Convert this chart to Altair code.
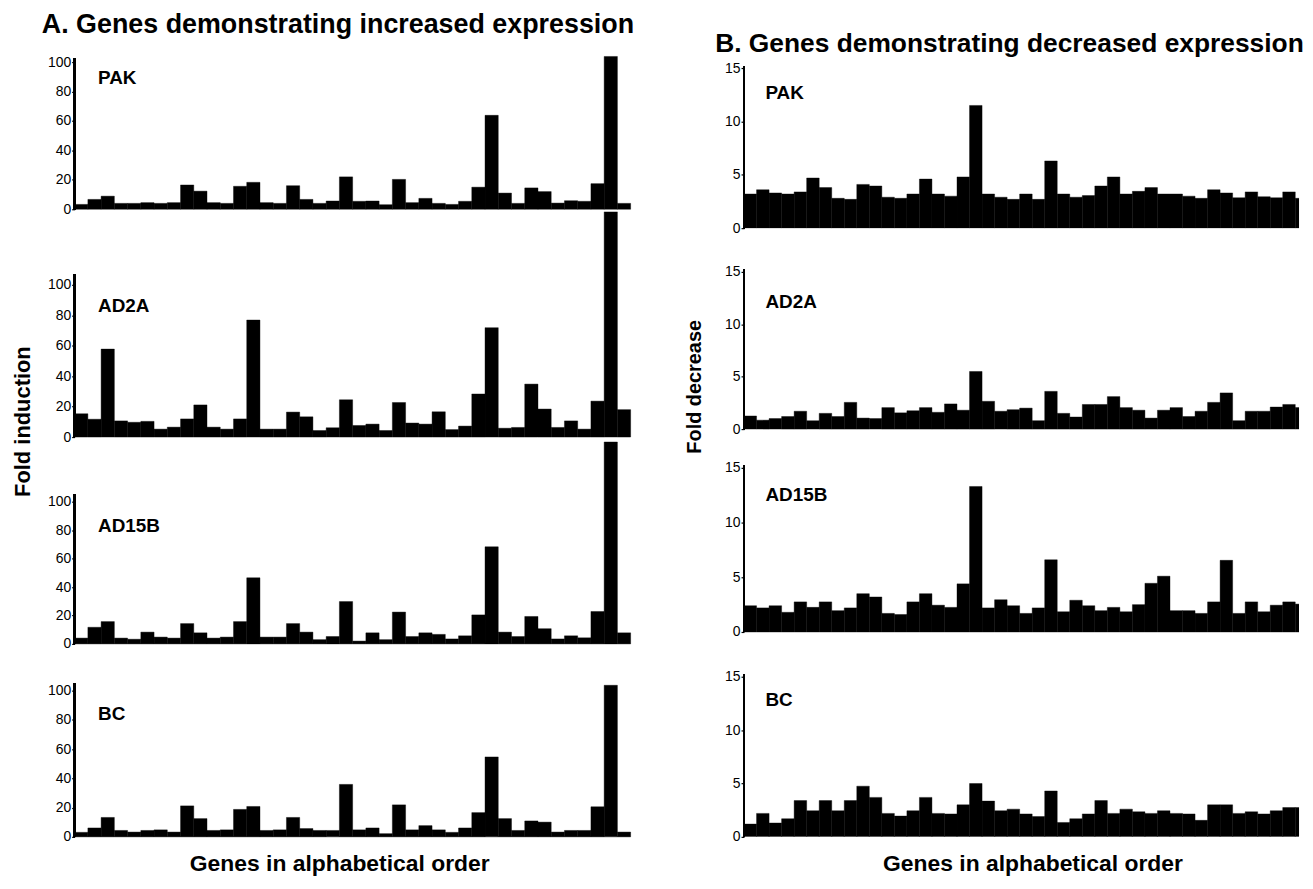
import altair as alt
import pandas as pd

FONT = "Liberation Sans"

# ---------------- data ----------------
panel_names = ["PAK", "AD2A", "AD15B", "BC"]

inc_pak = [3.3, 6.7, 8.9, 4, 4, 4.5, 4, 4.5, 16.5, 12.3,
           4.5, 4, 15.6, 18.3, 4.5, 4, 16, 6.7, 4, 5.6,
           22, 5.4, 5.6, 3.1, 20.3, 4.5, 7.4, 4, 3.3, 5.4,
           15, 63.8, 11, 4, 14.5, 12, 4.2, 5.8, 5.4, 17.4,
           103.8, 4]
inc_ad2a = [15.3, 11.7, 57.8, 10.6, 9.7, 10.3, 5.2, 6.5, 11.9, 21.1,
            6.5, 5.2, 11.9, 76.9, 5.2, 5.2, 16.4, 13.3, 4.3, 6.1,
            24.5, 7.6, 8.5, 4.3, 22.7, 9.2, 8.5, 16.6, 4.9, 7.2,
            28.3, 71.9, 5.8, 6.3, 34.8, 18.4, 6.3, 10.6, 5.2, 23.6,
            148, 18]
inc_ad15b = [4.1, 11.7, 15.7, 4.1, 3.3, 8.3, 4.8, 4.1, 14.3, 7.8,
             4.1, 4.8, 15.7, 46.5, 4.8, 4.8, 14.3, 8.3, 3.0, 5.2,
             29.8, 2.0, 7.8, 3.0, 22.4, 5.2, 7.8, 6.7, 3.5, 5.7,
             20.4, 68.3, 8.3, 5.2, 19.3, 10.7, 3.5, 5.7, 4.3, 22.8,
             142, 7.8]
inc_bc = [3.1, 6.1, 13.3, 4.4, 3.3, 4.4, 4.8, 3.3, 21.2, 12.5,
          4.4, 4.8, 18.8, 20.8, 4.4, 4.8, 13.3, 5.7, 4.4, 4.4,
          35.9, 4.8, 6.1, 2.2, 21.9, 4.8, 7.7, 4.8, 3.1, 6.1,
          16.6, 54.7, 12.5, 4.4, 10.9, 10.1, 3.3, 4.4, 4.4, 20.6,
          103.7, 3.3]

dec_pak = [3.2, 3.6, 3.3, 3.2, 3.4, 4.7, 3.8, 2.8, 2.7, 4.1,
           3.95, 2.9, 2.8, 3.2, 4.6, 3.2, 3.0, 4.8, 11.5, 3.2,
           2.9, 2.7, 3.2, 2.7, 6.3, 3.2, 2.9, 3.05, 3.95, 4.8,
           3.2, 3.45, 3.8, 3.2, 3.2, 3.0, 2.8, 3.6, 3.3, 2.85,
           3.4, 2.95, 2.85, 3.4, 2.8]
dec_ad2a = [1.25, 0.85, 1.0, 1.2, 1.7, 0.8, 1.5, 1.2, 2.55, 1.05,
            1.0, 2.05, 1.55, 1.75, 2.05, 1.6, 2.4, 1.8, 5.5, 2.65,
            1.7, 1.85, 2.0, 0.8, 3.6, 1.5, 1.15, 2.35, 2.35, 3.1,
            2.05, 1.8, 1.05, 1.8, 2.05, 1.2, 1.7, 2.55, 3.45, 0.8,
            1.7, 1.7, 2.1, 2.35, 2.05]
dec_ad15b = [2.4, 2.2, 2.4, 1.8, 2.75, 2.25, 2.75, 1.95, 2.2, 3.5,
             3.2, 1.7, 1.6, 2.75, 3.5, 2.45, 2.25, 4.4, 13.3, 2.2,
             2.95, 2.4, 1.7, 2.2, 6.6, 1.85, 2.9, 2.4, 1.95, 2.25,
             1.85, 2.5, 4.45, 5.1, 1.95, 1.95, 1.7, 2.75, 6.55, 1.7,
             2.75, 1.85, 2.45, 2.75, 2.55]
dec_bc = [1.2, 2.2, 1.3, 1.7, 3.4, 2.45, 3.4, 2.45, 3.4, 4.75,
          3.7, 2.2, 1.95, 2.45, 3.7, 2.2, 2.15, 3.0, 5.0, 3.35,
          2.45, 2.6, 2.15, 1.9, 4.3, 1.35, 1.7, 2.15, 3.4, 2.2,
          2.6, 2.35, 2.2, 2.45, 2.2, 2.15, 1.55, 3.0, 3.0, 2.2,
          2.35, 2.15, 2.45, 2.75, 2.75]

inc_ticks = [0, 20, 40, 60, 80, 100]
dec_ticks = [0, 5, 10, 15]

title_a = "A. Genes demonstrating increased expression"
title_b = "B. Genes demonstrating decreased expression"
y_title_a = "Fold induction"
y_title_b = "Fold decrease"
x_title = "Genes in alphabetical order"


def panel(values, name, width, height, xmax, ydom, axis_top, ticks,
          lab_x, lab_y, clip=False, side=None, head=None):
    df = pd.DataFrame({"gene": list(range(len(values))), "value": values})
    yaxis = alt.Axis(values=ticks, domain=False, grid=False, ticks=True,
                     tickSize=3, tickWidth=1.2, tickColor="black",
                     labelFontSize=14, labelColor="black", labelFont=FONT,
                     labelPadding=1, labelOverlap=False, labelFlush=False,
                     labelSeparation=0, labelBound=False,
                     title=name, titleFont=FONT, titleFontSize=19,
                     titleFontWeight="bold", titleColor="black", titleAngle=0,
                     titleAlign="left", titleBaseline="middle",
                     titleX=lab_x, titleY=lab_y)
    if side is not None:
        xaxis = alt.Axis(labels=False, ticks=False, domain=False, grid=False,
                         title=side["text"], titleFont=FONT,
                         titleFontSize=side["size"], titleFontWeight="bold",
                         titleColor="black", titleAngle=side["angle"],
                         titleAlign="center", titleBaseline="middle",
                         titleX=side["x"], titleY=side["y"])
    else:
        xaxis = None
    yscale = alt.Scale(domain=ydom, nice=False, zero=False)
    bars = alt.Chart(df).transform_calculate(
        gene_end="datum.gene + 1"
    ).mark_bar(color="black", stroke="black", strokeWidth=0.4, clip=clip).encode(
        x=alt.X("gene:Q", scale=alt.Scale(domain=[0, xmax], nice=False, zero=False),
                axis=xaxis),
        x2="gene_end:Q",
        y=alt.Y("value:Q", scale=yscale, axis=yaxis),
        y2=alt.datum(0),
    )
    rule = alt.Chart(df).mark_rule(color="black", strokeWidth=2).encode(
        x=alt.value(0),
        y=alt.YDatum(0, scale=yscale, axis=None),
        y2=alt.datum(axis_top),
    )
    layer = alt.layer(bars, rule).resolve_scale(y="independent").resolve_axis(
        y="independent").properties(width=width, height=height)
    if head is not None:
        layer = layer.properties(
            title=alt.TitleParams(text=head["text"], anchor="start", frame="group",
                                  orient="top", dx=head["dx"], offset=head["off"],
                                  baseline="middle", fontSize=head["size"],
                                  fontWeight="bold", font=FONT, color="black"))
    return layer


LW, RW = 559, 558
LX, RX = 42, 44.3
row_h = [171, 210, 208, 194]

panels = [
    # row 1
    panel(inc_pak, panel_names[0], LW, row_h[0], LX, [-12.84, 102.7], 102.7, inc_ticks, 23, 20,
          head={"text": title_a, "dx": -33, "off": 3, "size": 27}),
    panel(dec_pak, panel_names[0], RW, row_h[0], RX, [0, 15.94], 15.2, dec_ticks, 21, 35,
          clip=True, head={"text": title_b, "dx": -29, "off": -12, "size": 26.5}),
    # row 2
    panel(inc_ad2a, panel_names[1], LW, row_h[1], LX, [0, 137.3], 107, inc_ticks, 23, 78,
          side={"text": y_title_a, "size": 22, "angle": 270, "x": -52, "y": -16}),
    panel(dec_ad2a, panel_names[1], RW, row_h[1], RX, [-0.76, 19.18], 15.2, dec_ticks, 21, 74,
          clip=True, side={"text": y_title_b, "size": 20, "angle": 270, "x": -50, "y": -51}),
    # row 3
    panel(inc_ad15b, panel_names[2], LW, row_h[2], LX, [0, 145.5], 105, inc_ticks, 23, 89),
    panel(dec_ad15b, panel_names[2], RW, row_h[2], RX, [-1.09, 17.82], 15.2, dec_ticks, 21, 58,
          clip=True),
    # row 4
    panel(inc_bc, panel_names[3], LW, row_h[3], LX, [0, 132], 105, inc_ticks, 23, 70,
          side={"text": x_title, "size": 23, "angle": 0, "x": 266, "y": 27}),
    panel(dec_bc, panel_names[3], RW, row_h[3], RX, [0, 18.08], 15.2, dec_ticks, 21, 56,
          clip=True, side={"text": x_title, "size": 23, "angle": 0, "x": 290, "y": 27}),
]

chart = alt.concat(
    *panels, columns=2, spacing={"row": 0, "column": 114}, bounds="flush", align="each"
).properties(
    padding={"left": 3, "top": 0, "right": 0, "bottom": 0}
).configure(font=FONT).configure_view(stroke=None, strokeWidth=0)

chart.save("out.html", embed_options={"renderer": "svg", "actions": False})
